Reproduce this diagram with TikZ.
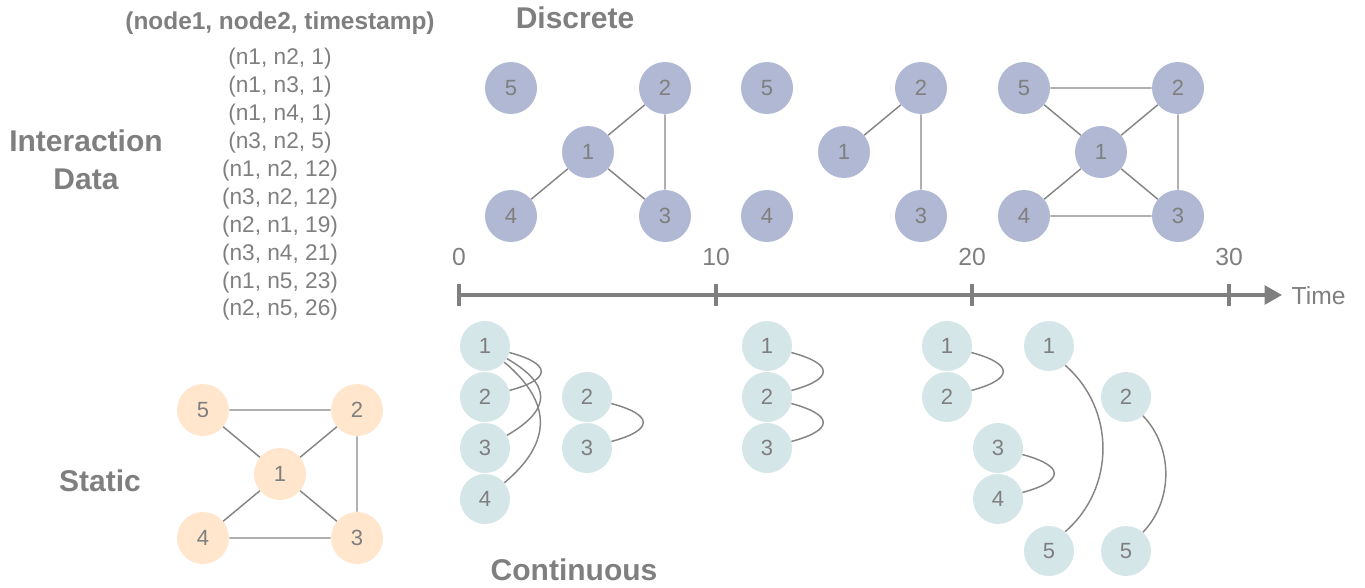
\documentclass[tikz,border=0pt]{standalone}
\usepackage{fontspec}
\setmainfont{Liberation Sans}
\usetikzlibrary{arrows.meta}
\definecolor{txt}{HTML}{7F7F7F}
\definecolor{disc}{HTML}{B0B8D3}
\definecolor{cont}{HTML}{D5E6E8}
\definecolor{stat}{HTML}{FFE6CC}
\definecolor{edge}{HTML}{858585}

\begin{document}
\begin{tikzpicture}[x=0.75pt,y=-0.75pt,
  vtx/.style={circle,minimum size=39pt,inner sep=0pt,text=txt,
    font=\fontsize{16.5}{18}\selectfont},
  dnode/.style={vtx,fill=disc},
  cnode/.style={vtx,fill=cont,minimum size=37.5pt},
  snode/.style={vtx,fill=stat},
  link/.style={draw=edge,line width=1.1pt},
  title/.style={text=txt,font=\bfseries\fontsize{22.5}{27}\selectfont},
  rowtext/.style={text=txt,font=\fontsize{17}{20}\selectfont},
  ticktext/.style={text=txt,font=\fontsize{18.5}{20}\selectfont},
  axis/.style={draw=txt,line width=2.6pt},
]
\useasboundingbox (0,0) rectangle (1365,587);

% headings
\node[title] (hdata1) at (86,141) {Interaction};
\node[title] (hdata2) at (86,179) {Data};
\node[title] (hdisc) at (575,18) {Discrete};
\node[title] (hcont) at (574,570) {Continuous};
\node[title] (hstat) at (100,481) {Static};
\node[text=txt,font=\bfseries\fontsize{18.3}{22}\selectfont] (hcols) at (280,23) {(node1, node2, timestamp)};

% interaction records
\foreach \t [count=\i] in {{(n1, n2, 1)},{(n1, n3, 1)},{(n1, n4, 1)},{(n3, n2, 5)},
  {(n1, n2, 12)},{(n3, n2, 12)},{(n2, n1, 19)},{(n3, n4, 21)},{(n1, n5, 23)},{(n2, n5, 26)}}
  \node[rowtext] (row\i) at (280,{59+(\i-1)*27.9}) {\t};

% discrete snapshots
\foreach \g/\dx in {a/0,b/256,c/513}{
  \node[dnode] (\g5) at (511+\dx,88) {5};
  \node[dnode] (\g2) at (665+\dx,88) {2};
  \node[dnode] (\g1) at (588+\dx,152) {1};
  \node[dnode] (\g4) at (511+\dx,216) {4};
  \node[dnode] (\g3) at (665+\dx,216) {3};
}
\draw[link] (a1) -- (a2) (a1) -- (a4) (a1) -- (a3) (a2) -- (a3);
\draw[link] (b1) -- (b2) (b2) -- (b3);
\draw[link] (c5) -- (c2) (c5) -- (c1) (c1) -- (c2) (c1) -- (c4) (c1) -- (c3)
  (c4) -- (c3) (c2) -- (c3);

% static graph
\node[snode] (s5) at (203,410) {5};
\node[snode] (s2) at (357,410) {2};
\node[snode] (s1) at (280,474) {1};
\node[snode] (s4) at (203,538) {4};
\node[snode] (s3) at (357,538) {3};
\draw[link] (s5) -- (s2) (s5) -- (s1) (s1) -- (s2) (s1) -- (s4) (s1) -- (s3)
  (s4) -- (s3) (s2) -- (s3);

% time axis
\coordinate (t0) at (459,295);
\coordinate (t10) at (716,295);
\coordinate (t20) at (972,295);
\coordinate (t30) at (1229,295);
\coordinate (tend) at (1282,295);
\draw[axis,-{Triangle[length=13pt,width=14pt]}] (t0) -- (tend);
\foreach \c/\l in {t0/0,t10/10,t20/20,t30/30}{
  \draw[axis] ([yshift=8.5pt]\c) -- ([yshift=-8.5pt]\c);
  \node[ticktext] (lab\c) at ([yshift=28.5pt]\c) {\l};
}
\node[ticktext,anchor=west] (ttime) at (1287,296) {Time};

% continuous interactions
\node[cnode] (pa1) at (485,346) {1};
\node[cnode] (pa2) at (485,397) {2};
\node[cnode] (pa3) at (485,448) {3};
\node[cnode] (pa4) at (485,499) {4};
\node[cnode] (pb2) at (587,397) {2};
\node[cnode] (pb3) at (587,448) {3};
\node[cnode] (pc1) at (767,346) {1};
\node[cnode] (pc2) at (767,397) {2};
\node[cnode] (pc3) at (767,448) {3};
\node[cnode] (pd1) at (947,346) {1};
\node[cnode] (pd2) at (947,397) {2};
\node[cnode] (pe3) at (998,448) {3};
\node[cnode] (pe4) at (998,499) {4};
\node[cnode] (pf1) at (1049,346) {1};
\node[cnode] (pf5) at (1049,551) {5};
\node[cnode] (pg2) at (1126,397) {2};
\node[cnode] (pg5) at (1126,551) {5};

\draw[link] (pa1.-15) to[out=-15,in=15,distance=33pt] (pa2.15);
\draw[link] (pa1.-30) to[out=-30,in=30,distance=39pt] (pa3.30);
\draw[link] (pa1.-40) to[out=-40,in=40,distance=47pt] (pa4.40);
\draw[link] (pb2.-15) to[out=-15,in=15,distance=33pt] (pb3.15);
\draw[link] (pc1.-15) to[out=-15,in=15,distance=33pt] (pc2.15);
\draw[link] (pc2.-15) to[out=-15,in=15,distance=33pt] (pc3.15);
\draw[link] (pd1.-15) to[out=-15,in=15,distance=33pt] (pd2.15);
\draw[link] (pe3.-15) to[out=-15,in=15,distance=33pt] (pe4.15);
\draw[link] (pf1.-50) to[out=-41,in=41,distance=50pt] (pf5.50);
\draw[link] (pg2.-48) to[out=-46,in=46,distance=33pt] (pg5.48);
\end{tikzpicture}
\end{document}
